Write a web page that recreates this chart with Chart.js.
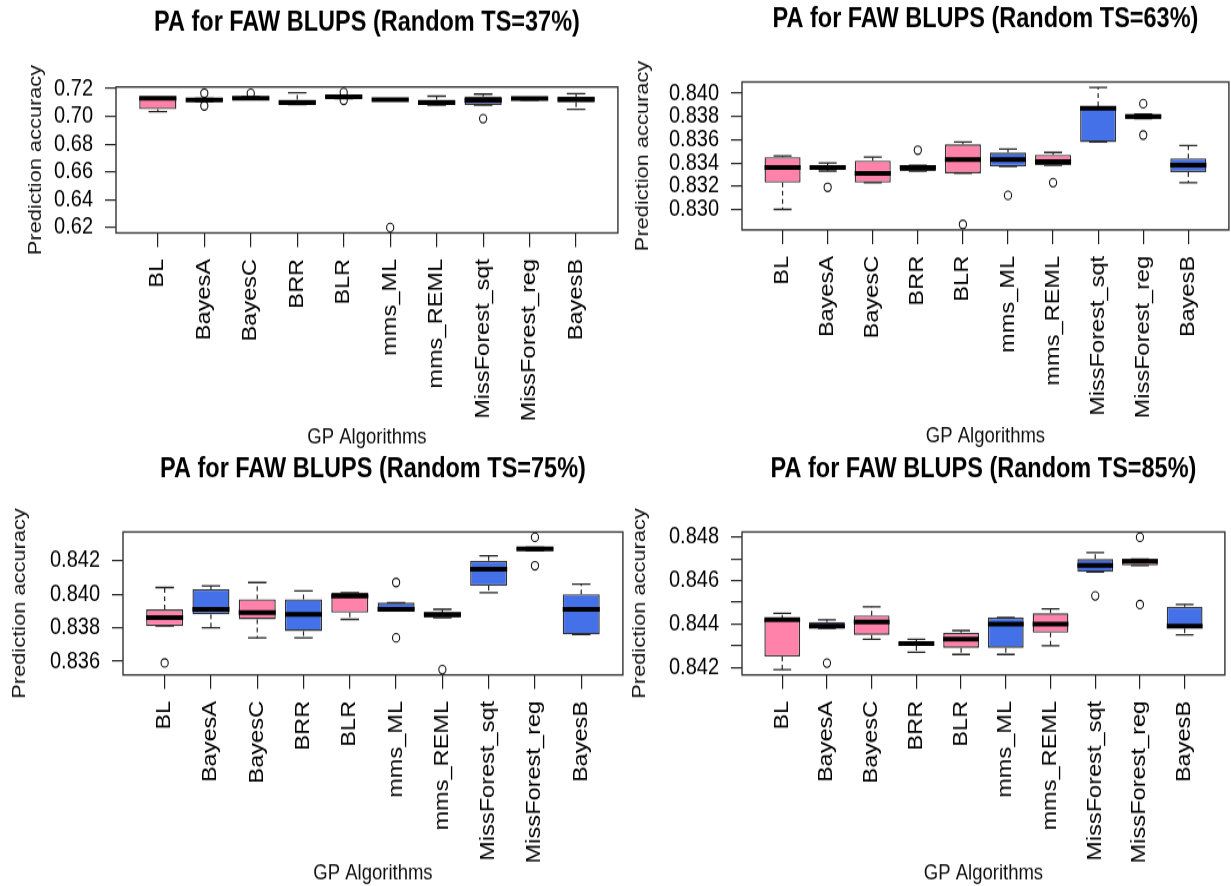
<!DOCTYPE html>
<html>
<head>
<meta charset="utf-8">
<title>PA for FAW BLUPS</title>
<script src="https://cdn.jsdelivr.net/npm/chart.js@4.4.1/dist/chart.umd.min.js"></script>
<style>
  html, body { margin: 0; padding: 0; background: #fff; width: 1231px; height: 886px; overflow: hidden; }
  #fig { position: relative; width: 1231px; height: 886px; overflow: hidden; }
  canvas { position: absolute; }
</style>
</head>
<body>
<div id="fig">
  <canvas id="c37"></canvas>
  <canvas id="c63"></canvas>
  <canvas id="c75"></canvas>
  <canvas id="c85"></canvas>
</div>
<script>
/* The source figure is stretched vertically, so every canvas is drawn
   short and stretched back with CSS by this factor. */
var SY = 1.18;

var PINK = '#FF82AB';
var BLUE = '#4470E8';

var CATS = ['BL', 'BayesA', 'BayesC', 'BRR', 'BLR', 'mms_ML', 'mms_REML',
            'MissForest_sqt', 'MissForest_reg', 'BayesB'];
var BOX_COLORS = [PINK, BLUE, PINK, BLUE, PINK, BLUE, PINK, BLUE, PINK, BLUE];

/* ── TS = 37% ── */
var TS37_LOW  = [0.7034, 0.7105, 0.7122, 0.7085, 0.7128, 0.7112, 0.7080, 0.7080, 0.7116, 0.7051];
var TS37_Q1   = [0.7051, 0.7108, 0.7125, 0.7088, 0.7133, 0.7115, 0.7082, 0.7082, 0.7118, 0.7100];
var TS37_MED  = [0.7130, 0.7118, 0.7130, 0.7098, 0.7140, 0.7120, 0.7098, 0.7115, 0.7127, 0.7122];
var TS37_Q3   = [0.7135, 0.7125, 0.7140, 0.7120, 0.7148, 0.7125, 0.7120, 0.7142, 0.7133, 0.7140];
var TS37_HIGH = [0.7135, 0.7128, 0.7142, 0.7170, 0.7150, 0.7127, 0.7145, 0.7160, 0.7136, 0.7163];
var TS37_OUT_CAT = ['BayesA', 'BayesA', 'BayesC', 'BLR', 'BLR', 'mms_ML', 'MissForest_sqt'];
var TS37_OUT_VAL = [0.7166, 0.7075, 0.7165, 0.7172, 0.7115, 0.6200, 0.6983];
var TS37_TICKS = [0.62, 0.64, 0.66, 0.68, 0.70, 0.72];
var TS37_LABELS = [0.62, 0.64, 0.66, 0.68, 0.70, 0.72];

/* ── TS = 63% ── */
var TS63_LOW  = [0.8300, 0.8333, 0.8323, 0.8333, 0.8331, 0.8337, 0.8338, 0.8358, 0.8378, 0.8323];
var TS63_Q1   = [0.8323, 0.8334, 0.8323, 0.8333, 0.8331, 0.8337, 0.8338, 0.8358, 0.8378, 0.8332];
var TS63_MED  = [0.8336, 0.8336, 0.8331, 0.8336, 0.8343, 0.8343, 0.8341, 0.8387, 0.8380, 0.8338];
var TS63_Q3   = [0.8345, 0.8338, 0.8342, 0.8338, 0.8356, 0.8349, 0.8347, 0.8389, 0.8382, 0.8344];
var TS63_HIGH = [0.8346, 0.8340, 0.8345, 0.8338, 0.8358, 0.8352, 0.8349, 0.8405, 0.8382, 0.8355];
var TS63_OUT_CAT = ['BayesA', 'BRR', 'BLR', 'mms_ML', 'mms_REML', 'MissForest_reg', 'MissForest_reg'];
var TS63_OUT_VAL = [0.8319, 0.8351, 0.8287, 0.8312, 0.8323, 0.8391, 0.8364];
var TS63_TICKS = [0.830, 0.832, 0.834, 0.836, 0.838, 0.840];
var TS63_LABELS = [0.830, 0.832, 0.834, 0.836, 0.838, 0.840];

/* ── TS = 75% ── */
var TS75_LOW  = [0.8381, 0.8380, 0.8374, 0.8374, 0.8385, 0.8390, 0.8386, 0.8401, 0.8426, 0.8376];
var TS75_Q1   = [0.8381, 0.8388, 0.8385, 0.8378, 0.8389, 0.8390, 0.8386, 0.8405, 0.8426, 0.8376];
var TS75_MED  = [0.8386, 0.8391, 0.8389, 0.8388, 0.8399, 0.8391, 0.8388, 0.8415, 0.8427, 0.8391];
var TS75_Q3   = [0.8391, 0.8403, 0.8397, 0.8397, 0.8401, 0.8395, 0.8389, 0.8420, 0.8428, 0.8400];
var TS75_HIGH = [0.8404, 0.8405, 0.8407, 0.8402, 0.8401, 0.8395, 0.8391, 0.8423, 0.8428, 0.8406];
var TS75_OUT_CAT = ['BL', 'mms_ML', 'mms_ML', 'mms_REML', 'MissForest_reg', 'MissForest_reg'];
var TS75_OUT_VAL = [0.8359, 0.8407, 0.8374, 0.8355, 0.8434, 0.8417];
var TS75_TICKS = [0.836, 0.838, 0.840, 0.842];
var TS75_LABELS = [0.836, 0.838, 0.840, 0.842];

/* ── TS = 85% ── */
var TS85_LOW  = [0.8419, 0.8438, 0.8433, 0.8427, 0.8426, 0.8426, 0.8430, 0.8464, 0.8467, 0.8435];
var TS85_Q1   = [0.8425, 0.8438, 0.8435, 0.8430, 0.8429, 0.8429, 0.8436, 0.8464, 0.8467, 0.8438];
var TS85_MED  = [0.8442, 0.8439, 0.8441, 0.8431, 0.8433, 0.8440, 0.8440, 0.8467, 0.8469, 0.8439];
var TS85_Q3   = [0.8442, 0.8441, 0.8444, 0.8432, 0.8436, 0.8443, 0.8445, 0.8470, 0.8470, 0.8448];
var TS85_HIGH = [0.8445, 0.8442, 0.8448, 0.8433, 0.8437, 0.8443, 0.8447, 0.8473, 0.8470, 0.8449];
var TS85_OUT_CAT = ['BayesA', 'MissForest_sqt', 'MissForest_reg', 'MissForest_reg'];
var TS85_OUT_VAL = [0.8422, 0.8453, 0.8480, 0.8449];
var TS85_TICKS = [0.842, 0.843, 0.844, 0.845, 0.846, 0.847, 0.848];
var TS85_LABELS = [0.842, 0.844, 0.846, 0.848];

var TITLE_SIZE = 23.5;
var TICK_SIZE = 20;
var LAB_SIZE = 18.5;
Chart.defaults.font.family = '"Liberation Sans", Arial, sans-serif';

/* ── whiskers, medians, staples and the plot frame ── */
var boxPlot = {
  id: 'boxPlot',
  beforeDatasetsDraw: function (chart) {
    var st = chart.data.datasets[1].stats;
    var xs = chart.scales.x, ys = chart.scales.y, ctx = chart.ctx;
    ctx.save();
    ctx.strokeStyle = '#222';
    ctx.lineWidth = 1.2;
    ctx.setLineDash([4, 3]);
    st.med.forEach(function (m, i) {
      var x = xs.getPixelForValue(i + 1);
      ctx.beginPath();
      ctx.moveTo(x, ys.getPixelForValue(st.q3[i]));
      ctx.lineTo(x, ys.getPixelForValue(st.high[i]));
      ctx.moveTo(x, ys.getPixelForValue(st.q1[i]));
      ctx.lineTo(x, ys.getPixelForValue(st.low[i]));
      ctx.stroke();
    });
    ctx.restore();
  },
  afterDatasetsDraw: function (chart) {
    var st = chart.data.datasets[1].stats;
    var bars = chart.getDatasetMeta(1).data;
    var xs = chart.scales.x, ys = chart.scales.y, ctx = chart.ctx;
    var a = chart.chartArea;
    ctx.save();
    st.med.forEach(function (m, i) {
      var x = xs.getPixelForValue(i + 1);
      var half = bars[i].width / 2;
      // staples
      ctx.strokeStyle = '#222';
      ctx.lineWidth = 1.3;
      ctx.beginPath();
      ctx.moveTo(x - half / 2, ys.getPixelForValue(st.high[i]));
      ctx.lineTo(x + half / 2, ys.getPixelForValue(st.high[i]));
      ctx.moveTo(x - half / 2, ys.getPixelForValue(st.low[i]));
      ctx.lineTo(x + half / 2, ys.getPixelForValue(st.low[i]));
      ctx.stroke();
      // median
      ctx.strokeStyle = '#000';
      ctx.lineWidth = 4;
      ctx.beginPath();
      ctx.moveTo(x - half, ys.getPixelForValue(m));
      ctx.lineTo(x + half, ys.getPixelForValue(m));
      ctx.stroke();
    });
    ctx.strokeStyle = '#333';
    ctx.lineWidth = 1.4;
    ctx.strokeRect(a.left, a.top, a.right - a.left, a.bottom - a.top);
    ctx.restore();
  }
};

function makePanel(p) {
  var g = p.geo;
  var canvas = document.getElementById(p.id);
  var h = Math.round(g.height / SY);
  canvas.width = g.width;
  canvas.height = h;
  canvas.style.left = g.left + 'px';
  canvas.style.top = g.top + 'px';
  canvas.style.width = g.width + 'px';
  canvas.style.height = (h * SY) + 'px';

  var plotTop = (g.plotTop - g.top) / SY;
  var plotBottom = (g.plotBottom - g.top) / SY;
  var titleY = (g.titleY - g.top) / SY;
  var xTitleY = (g.xTitleY - g.top) / SY;
  var titleLH = TITLE_SIZE * 1.2, labLH = LAB_SIZE * 1.2;

  // R style y range: data range widened by 4% on each side
  var all = p.low.concat(p.high, p.outVal);
  var lo = Math.min.apply(null, all), hi = Math.max.apply(null, all);
  var ext = (hi - lo) * 0.04;

  var boxes = CATS.map(function (c, i) { return { x: i + 1, y: [p.q1[i], p.q3[i]] }; });
  var outliers = p.outCat.map(function (c, i) { return { x: CATS.indexOf(c) + 1, y: p.outVal[i] }; });

  new Chart(canvas, {
    type: 'bar',
    data: {
      datasets: [
        {
          type: 'scatter',
          order: 0,
          data: outliers,
          pointStyle: 'circle',
          pointRadius: 3.6,
          pointBackgroundColor: '#fff',
          pointBorderColor: '#111',
          pointBorderWidth: 1.1,
          clip: false,
        },
        {
          type: 'bar',
          order: 1,
          data: boxes,
          backgroundColor: BOX_COLORS,
          borderColor: '#333',
          borderWidth: 1.4,
          borderSkipped: false,
          barPercentage: 0.8,
          categoryPercentage: 1,
          stats: { low: p.low, q1: p.q1, med: p.med, q3: p.q3, high: p.high },
        },
      ],
    },
    options: {
      responsive: false,
      animation: false,
      devicePixelRatio: 1,
      layout: { padding: 0 },
      events: [],
      plugins: {
        legend: { display: false },
        tooltip: { enabled: false },
        title: {
          display: true,
          text: p.title,
          fullSize: false,
          color: '#000',
          font: { size: TITLE_SIZE, weight: 'bold' },
          padding: { top: titleY - titleLH / 2, bottom: plotTop - titleY - titleLH / 2 },
        },
      },
      scales: {
        x: {
          type: 'linear',
          position: 'bottom',
          min: 0.1,
          max: CATS.length + 0.9,
          offset: false,
          bounds: 'data',
          afterBuildTicks: function (s) {
            s.ticks = CATS.map(function (c, i) { return { value: i + 1 }; });
          },
          afterFit: function (s) { s.height = h - plotBottom; },
          ticks: {
            autoSkip: false,
            minRotation: 90,
            maxRotation: 90,
            padding: 10,
            color: '#000',
            font: { size: TICK_SIZE },
            callback: function (v) { return CATS[v - 1]; },
          },
          grid: { drawOnChartArea: false, offset: false, tickLength: 12, color: '#222', lineWidth: 1.2 },
          border: { display: false },
          title: {
            display: true,
            text: 'GP Algorithms',
            color: '#111',
            font: { size: LAB_SIZE },
            padding: { top: 0, bottom: Math.max(0, h - xTitleY - labLH / 2) },
          },
        },
        y: {
          type: 'linear',
          position: 'left',
          min: lo - ext,
          max: hi + ext,
          bounds: 'data',
          afterBuildTicks: function (s) {
            s.ticks = p.ticks.map(function (v) { return { value: v }; });
          },
          afterFit: function (s) { s.width = g.plotLeft - g.left; },
          ticks: {
            autoSkip: false,
            padding: 12,
            color: '#000',
            font: { size: TICK_SIZE },
            callback: function (v) {
              var shown = p.labels.some(function (l) { return Math.abs(l - v) < 1e-9; });
              return shown ? v.toFixed(p.digits) : '';
            },
          },
          grid: { drawOnChartArea: false, tickLength: 11, color: '#222', lineWidth: 1.2 },
          border: { display: false },
          title: {
            display: true,
            text: 'Prediction accuracy',
            color: '#111',
            font: { size: LAB_SIZE },
            padding: { top: g.yTitleX - g.left - labLH / 2, bottom: 0 },
          },
        },
      },
    },
    plugins: [boxPlot],
  });
}

var PANELS = [
  { id: 'c37', title: 'PA for FAW BLUPS (Random TS=37%)',
    low: TS37_LOW, q1: TS37_Q1, med: TS37_MED, q3: TS37_Q3, high: TS37_HIGH,
    outCat: TS37_OUT_CAT, outVal: TS37_OUT_VAL, ticks: TS37_TICKS, labels: TS37_LABELS, digits: 2,
    geo: { left: 0, top: 0, width: 623, height: 460, plotLeft: 116, plotTop: 87, plotBottom: 233,
           titleY: 23, xTitleY: 438, yTitleX: 36 } },
  { id: 'c63', title: 'PA for FAW BLUPS (Random TS=63%)',
    low: TS63_LOW, q1: TS63_Q1, med: TS63_MED, q3: TS63_Q3, high: TS63_HIGH,
    outCat: TS63_OUT_CAT, outVal: TS63_OUT_VAL, ticks: TS63_TICKS, labels: TS63_LABELS, digits: 3,
    geo: { left: 620, top: 0, width: 614, height: 460, plotLeft: 742, plotTop: 82, plotBottom: 230,
           titleY: 19, xTitleY: 437, yTitleX: 643 } },
  { id: 'c75', title: 'PA for FAW BLUPS (Random TS=75%)',
    low: TS75_LOW, q1: TS75_Q1, med: TS75_MED, q3: TS75_Q3, high: TS75_HIGH,
    outCat: TS75_OUT_CAT, outVal: TS75_OUT_VAL, ticks: TS75_TICKS, labels: TS75_LABELS, digits: 3,
    geo: { left: 0, top: 443, width: 628, height: 460, plotLeft: 123, plotTop: 532, plotBottom: 675,
           titleY: 470, xTitleY: 873, yTitleX: 20 } },
  { id: 'c85', title: 'PA for FAW BLUPS (Random TS=85%)',
    low: TS85_LOW, q1: TS85_Q1, med: TS85_MED, q3: TS85_Q3, high: TS85_HIGH,
    outCat: TS85_OUT_CAT, outVal: TS85_OUT_VAL, ticks: TS85_TICKS, labels: TS85_LABELS, digits: 3,
    geo: { left: 620, top: 443, width: 610, height: 460, plotLeft: 742, plotTop: 532, plotBottom: 675,
           titleY: 470, xTitleY: 874, yTitleX: 640 } },
];

PANELS.forEach(makePanel);
</script>
</body>
</html>
